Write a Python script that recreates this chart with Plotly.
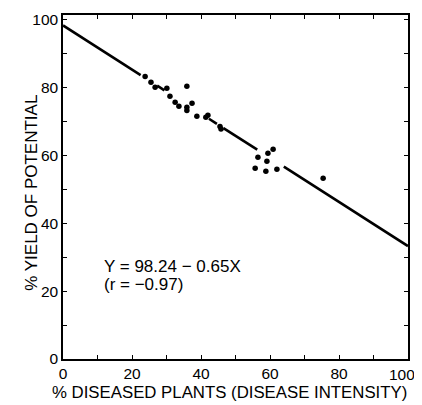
import plotly.graph_objects as go

# Observed data points
disease_pct = [23.8, 25.5, 26.7, 30.1, 31.0, 32.5, 33.6, 35.9, 35.9, 35.9, 37.4, 38.8,
               41.4, 42.0, 45.5, 45.8, 55.7, 56.5, 58.8, 59.1, 59.4, 60.9, 62.0, 75.4]
yield_pct = [83.2, 81.5, 80.0, 79.7, 77.4, 75.6, 74.4, 80.3, 74.1, 73.2, 75.3, 71.5,
             71.2, 71.8, 68.5, 67.7, 56.2, 59.4, 55.3, 58.2, 60.6, 61.8, 55.9, 53.2]

# Regression line Y = 98.24 - 0.65X, drawn with gaps around the dots
intercept = 98.24
slope = -0.65
line_segments = [(0, 22.5), (27.3, 29.4), (42.3, 44.6), (46.5, 56.3), (64, 100)]

x_ticks = [0, 20, 40, 60, 80, 100]
y_ticks = [0, 20, 40, 60, 80, 100]

lx, ly = [], []
for a, b in line_segments:
    lx += [a, b, None]
    ly += [intercept + slope * a, intercept + slope * b, None]

fig = go.Figure()
fig.add_trace(go.Scatter(x=lx, y=ly, mode="lines",
                         line=dict(color="black", width=2.6), hoverinfo="skip"))
fig.add_trace(go.Scatter(x=disease_pct, y=yield_pct, mode="markers",
                         marker=dict(color="black", size=5.5)))

font = "Liberation Sans, Arial, Helvetica, sans-serif"
tick_font = dict(family=font, size=15.5, color="black")
axis_common = dict(showline=True, linecolor="black", linewidth=1.5, mirror="ticks",
                   ticks="inside", ticklen=4, tickwidth=1, tickcolor="black",
                   showgrid=False, zeroline=False, automargin=False,
                   tickfont=tick_font)

last_x = x_ticks[-1]
fig.update_xaxes(range=[0, 100], tickvals=list(range(0, 101, 10)),
                 ticktext=[str(v) if (v in x_ticks and v != last_x) else ""
                           for v in range(0, 101, 10)],
                 **axis_common)
fig.update_yaxes(range=[0, 101.3], tickvals=list(range(0, 101, 10)),
                 ticktext=[str(v) if v in y_ticks else "" for v in range(0, 101, 10)],
                 **axis_common)

# last x tick label nudged left so it is not clipped at the page edge
fig.add_annotation(x=last_x, yref="paper", y=-0.044, xanchor="center", yanchor="middle",
                   xshift=-6, showarrow=False, text=str(last_x), font=tick_font)

fig.add_annotation(xref="paper", yref="paper", x=0.484, y=-0.096,
                   xanchor="center", yanchor="middle", showarrow=False,
                   text="% DISEASED PLANTS (DISEASE INTENSITY)",
                   font=dict(family=font, size=16.8, color="black"))
fig.add_annotation(xref="paper", yref="paper", x=-0.09, y=0.483,
                   xanchor="center", yanchor="middle", showarrow=False, textangle=-90,
                   text="% YIELD OF POTENTIAL",
                   font=dict(family=font, size=17, color="black"))

fig.add_annotation(x=11.3, y=27.3, xanchor="left", yanchor="middle", showarrow=False,
                   text="Y = 98.24 \u2212 0.65X",
                   font=dict(family=font, size=17, color="black"))
fig.add_annotation(x=11.3, y=22.0, xanchor="left", yanchor="middle", showarrow=False,
                   text="(r = \u22120.97)",
                   font=dict(family=font, size=17, color="black"))

# The page body adds an 8px offset; size and margins compensate for it.
fig.update_layout(width=414, height=397, showlegend=False,
                  margin=dict(l=55, r=14, t=7, b=46),
                  paper_bgcolor="white", plot_bgcolor="white")

fig.write_html("out.html")
